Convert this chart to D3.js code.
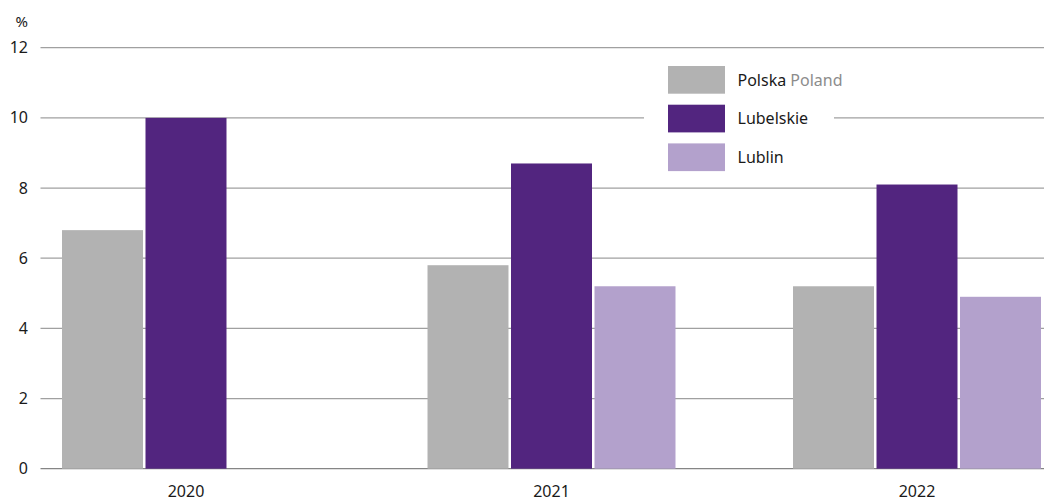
<!DOCTYPE html>
<html><head><meta charset="utf-8">
<script src="https://cdn.jsdelivr.net/npm/d3@7"></script>
<style>
body{margin:0;background:#fff;}
svg{display:block;font-family:"Noto Sans",sans-serif;}
</style></head>
<body><svg id="c" width="1044" height="501"></svg>
<script>
const years = ["2020", "2021", "2022"];
const seriesNames = ["Polska", "Lubelskie", "Lublin"];
const polska = [6.8, 5.8, 5.2];
const lubelskie = [10.0, 8.7, 8.1];
const lublin = [null, 5.2, 4.9];
const yTicks = [0, 2, 4, 6, 8, 10, 12];
const colors = ["#b2b2b2", "#52257f", "#b3a1cc"];
const legendLabels = [["Polska", " Poland"], ["Lubelskie", ""], ["Lublin", ""]];

const seriesValues = [polska, lubelskie, lublin];
const svg = d3.select("#c");

const y = d3.scaleLinear().domain([0, 12]).range([468.7, 47.7]);
const x = d3.scaleBand().domain(years).range([62, 1041]).paddingInner(0.3215).paddingOuter(0);
const xi = d3.scaleBand().domain(seriesNames).range([0, x.bandwidth()]).paddingInner(0.03).paddingOuter(0);

// gridlines
svg.append("g").selectAll("line").data(yTicks).join("line")
  .attr("x1", 40.5).attr("x2", 1044)
  .attr("y1", d => y(d)).attr("y2", d => y(d))
  .attr("stroke", d => d === 0 ? "#858585" : "#a0a0a0")
  .attr("stroke-width", 1.3);

// y labels
svg.append("g").selectAll("text").data(yTicks).join("text")
  .attr("x", 28).attr("y", d => y(d)).attr("dy", "0.35em")
  .attr("text-anchor", "end").attr("font-size", 16).attr("fill", "#1a1a1a")
  .text(d => d);
svg.append("text").attr("x", 28).attr("y", 27).attr("text-anchor", "end")
  .attr("font-size", 15).attr("fill", "#1a1a1a").text("%");

// bars
const data = [];
years.forEach((yr, i) => seriesNames.forEach((s, j) => {
  const v = seriesValues[j][i];
  if (v != null) data.push({yr, s, v, j});
}));
svg.append("g").selectAll("rect").data(data).join("rect")
  .attr("x", d => x(d.yr) + xi(d.s))
  .attr("width", xi.bandwidth())
  .attr("y", d => y(d.v))
  .attr("height", d => y(0) - y(d.v))
  .attr("fill", d => colors[d.j]);

// x labels
svg.append("g").selectAll("text").data(years).join("text")
  .attr("x", d => x(d) + x.bandwidth() / 2).attr("y", 496.5)
  .attr("text-anchor", "middle").attr("font-size", 16).attr("fill", "#1a1a1a")
  .text(d => d);

// legend
const lg = svg.append("g");
lg.append("rect").attr("x", 644).attr("y", 55).attr("width", 190).attr("height", 125).attr("fill", "#fff");
const items = lg.selectAll("g").data(seriesNames).join("g")
  .attr("transform", (d, i) => `translate(668,${66 + i * 38.7})`);
items.append("rect").attr("width", 57).attr("height", 27.7).attr("fill", (d, i) => colors[i]);
const t = items.append("text").attr("x", 69.5).attr("y", 14).attr("dy", "0.35em")
  .attr("font-size", 16).attr("fill", "#1a1a1a");
t.append("tspan").text((d, i) => legendLabels[i][0]);
t.append("tspan").attr("fill", "#8c8c8c").text((d, i) => legendLabels[i][1]);
</script></body></html>
